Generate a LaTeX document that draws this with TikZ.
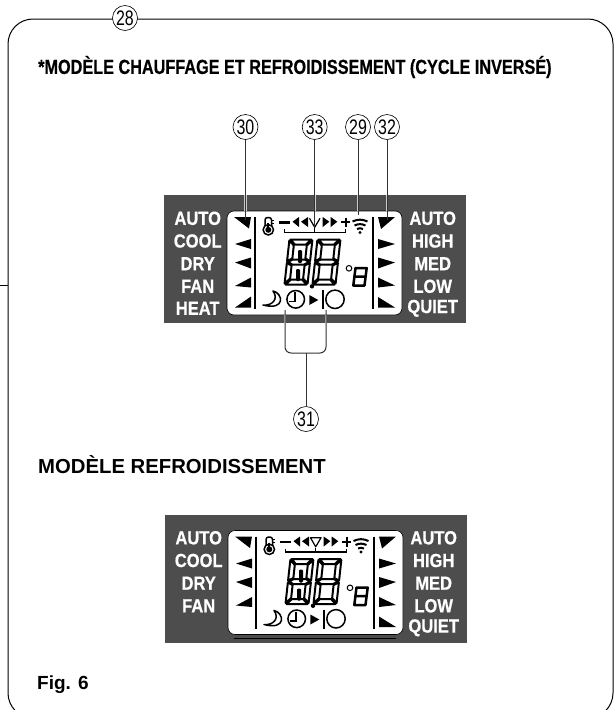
\documentclass[tikz,border=0pt]{standalone}
\usepackage{fontspec}
\setmainfont{Liberation Sans}
\newfontfamily\condfont[FakeStretch=0.87,BoldFeatures={FakeBold=0.5}]{Liberation Sans}
\newfontfamily\titlefont[FakeStretch=0.8,BoldFeatures={FakeBold=0.5}]{Liberation Sans}
\newfontfamily\numfont[FakeStretch=0.76]{Liberation Sans}
\usetikzlibrary{positioning,calc}
\definecolor{panelgray}{HTML}{4D4D4D}
\tikzset{
  callout/.style={circle,draw,fill=white,line width=0.6pt,minimum size=25pt,inner sep=0pt,
    font=\fontsize{21}{21}\selectfont\numfont},
  leader/.style={line width=1pt,black!80},
  halo/.style={line width=2.2pt,white!80!black},
  heading/.style={anchor=west,inner sep=0pt,font=\fontsize{20.3}{20.3}\selectfont\bfseries},
  panellabel/.style={text=white,inner sep=0pt,font=\fontsize{19}{19}\selectfont\bfseries\condfont},
  wedge/.style={fill=black,draw=none},
  lcdbar/.style={line width=2.4pt,black},
  seg/.style={draw=black,fill=white,line width=2pt,line join=round},
}
% one seven segment digit, top left at (#1,#2)
\newcommand{\segdigit}[2]{
  \begin{scope}[shift={(#1,#2)},xslant=0.11]
    \draw[seg] (1.5,0.5) -- (22.5,0.5) -- (17.5,5.5) -- (6.5,5.5) -- cycle; % top
    \draw[seg] (0.5,1.5) -- (5.5,6.5) -- (5.5,19.5) -- (0.5,22) -- cycle; % upper left
    \draw[seg] (23.5,1.5) -- (18.5,6.5) -- (18.5,19.5) -- (23.5,22) -- cycle; % upper right
    \draw[seg] (1.5,23) -- (6,20.5) -- (18,20.5) -- (22.5,23) -- (18,25.5) -- (6,25.5) -- cycle; % middle
    \draw[seg] (0.5,24) -- (5.5,26.5) -- (5.5,39.5) -- (0.5,44.5) -- cycle; % lower left
    \draw[seg] (23.5,24) -- (18.5,26.5) -- (18.5,39.5) -- (23.5,44.5) -- cycle; % lower right
    \draw[seg] (1.5,45.5) -- (22.5,45.5) -- (17.5,40.5) -- (6.5,40.5) -- cycle; % bottom
  \end{scope}
}
% the panel, #1 prefixes the node names, #2 closes the fan mark
\newcommand{\lcdpanel}[2]{
  \fill[panelgray] (164,195) rectangle (466,323);
  \draw[fill=white,line width=0.6pt,rounded corners=7pt] (227,211) rectangle (402,315);
  \foreach \row/\ypos/\lefttxt in {a/218.3/AUTO,b/241/COOL,c/263.7/DRY,d/286.3/FAN} {
    \node[panellabel] (#1left\row) at (197.7,\ypos) {\lefttxt};
  }
  \foreach \row/\ypos/\righttxt in {a/218.3/AUTO,b/241/HIGH,c/263.7/MED,d/286.3/LOW,e/308.3/QUIET} {
    \node[panellabel] (#1right\row) at (432.7,\ypos) {\righttxt};
  }
  \draw[lcdbar] (255,217) -- (255,309);
  \draw[lcdbar] (373,217) -- (373,309);
  % left wedges
  \fill[wedge] (234,217) -- (251,217) -- (249,228.5) -- cycle;
  \fill[wedge] (235,244) -- (251,239) -- (251,249) -- cycle;
  \fill[wedge] (235,262.5) -- (251,257.5) -- (251,268.5) -- cycle;
  \fill[wedge] (235,286) -- (251,277.5) -- (251,287.5) -- cycle;
  % right wedges
  \fill[wedge] (378,217) -- (395,217) -- (381,229) -- cycle;
  \fill[wedge] (378,239) -- (395,244) -- (378,249) -- cycle;
  \fill[wedge] (378,257.5) -- (395,262.5) -- (378,268.5) -- cycle;
  \fill[wedge] (378,277.5) -- (395,285.5) -- (378,287.5) -- cycle;
  \fill[wedge] (378,307.5) -- (395,307.5) -- (378,297) -- cycle;
  % thermometer
  \draw[line width=1.5pt,fill=white,rounded corners=2.5pt] (265,227) -- (265,217.5) -- (271.5,217.5) -- (271.5,227);
  \draw[line width=1.5pt,fill=white] (268.3,229.8) circle (5.2);
  \fill (268.3,229.8) circle (3);
  \draw[line width=2.2pt] (268.3,223) -- (268.3,229);
  \draw[line width=0.8pt] (272,220) -- (274.3,220) (272,223) -- (274.3,223);
  % fan speed row
  \draw[line width=2.2pt] (279,222.5) -- (290,222.5);
  \fill[wedge] (292.5,221.7) -- (299,217) -- (299,227) -- cycle;
  \fill[wedge] (301,221.7) -- (308,217) -- (308,227) -- cycle;
  \draw[line width=1.2pt,line join=round] (309.5,218.3) -- (314.7,227.3) -- (320,218.3) #2;
  \fill[wedge] (329.3,221.7) -- (322.7,217) -- (322.7,227) -- cycle;
  \fill[wedge] (337.3,221.7) -- (330.7,217) -- (330.7,227) -- cycle;
  \draw[line width=2.2pt] (341,222.3) -- (350.4,222.3) (345.7,217.6) -- (345.7,227);
  \draw[line width=1.5pt] (284.3,229.3) -- (284.3,232.3) -- (345.7,232.3) -- (345.7,229.3);
  \draw[line width=1.5pt] (314.5,228) -- (314.5,232.3);
  % signal mark
  \draw[line width=2pt] (352.5,221.5) to[bend left=25] (367.5,221.5);
  \draw[line width=2pt] (354.5,225.5) to[bend left=25] (365.5,225.5);
  \draw[line width=2pt] (357,229) to[bend left=25] (363,229);
  \fill (360,232.5) circle (1.7);
  % digits
  \segdigit{289}{239}
  \segdigit{317}{239}
  \fill[rounded corners=1.2pt] (298,250) rectangle (302,263);
  \fill[rounded corners=1.2pt] (296,269) rectangle (300,281);
  \fill (312,286.3) circle (2.2);
  \draw[line width=1pt] (349,268.3) circle (2.8);
  \draw[line width=2.5pt,line join=round] (355.5,268) -- (366.7,268) -- (364.5,285.5) -- (353.3,285.5) -- cycle
    (354.4,276.7) -- (365.6,276.7);
  % timer row
  \draw[line width=1.5pt,line join=round] (273,291) .. controls (283,293) and (286,311) .. (263,305)
    .. controls (272,306) and (279,299) .. cycle;
  \draw[line width=1.5pt] (295.7,299.3) circle (8.8);
  \draw[line width=1.3pt] (295,292) -- (295,301.5) -- (289,301.5);
  \fill[wedge] (309.3,295) -- (318.3,300) -- (309.3,305) -- cycle;
  \draw[lcdbar] (322.7,290) -- (322.7,309.3);
  \draw[line width=1.5pt] (335,299.3) circle (9.2);
}

\begin{document}
\begin{tikzpicture}[x=1pt,y=-1pt]
  \useasboundingbox (0,0) rectangle (615,710);
  \begin{scope}
    \clip (0,0) rectangle (615,710);
    \draw[line width=1pt,rounded corners=25pt] (8,19) rectangle (613,718);
    \draw[line width=0.8pt] (0,285) -- (8,285);
  \end{scope}
  \node[callout] (c28) at (125,18) {28};
  \node[heading,font=\fontsize{20.3}{20.3}\selectfont\bfseries\titlefont] (title) at (38,67) {*MODÈLE CHAUFFAGE ET REFROIDISSEMENT (CYCLE INVERSÉ)};
  \node[heading] (title2) at (38,465) {MODÈLE REFROIDISSEMENT};
  \node[heading,font=\fontsize{19}{19}\selectfont\bfseries] (figlabel) at (37,685) {Fig. 6};
  % panel with heat
  \lcdpanel{p}{}
  \node[panellabel] (plefte) at (197.7,308.3) {HEAT};
  \fill[wedge] (235,307.5) -- (251,307.5) -- (251,296.5) -- cycle;
  % callouts
  \foreach \nr/\xpos/\ypos in {30/245.5/220,33/314.7/227,29/358/215,32/387/220} {
    \node[callout] (c\nr) at (\xpos,127) {\nr};
    \coordinate (t\nr) at (\xpos,\ypos);
    \draw[halo] (\xpos,195) -- (\xpos,211);
    \draw[leader] (c\nr) -- (t\nr);
  }
  \node[callout] (c31) at (306,419) {31};
  \coordinate (tclock) at (285,310);
  \coordinate (tpower) at (326,310);
  \draw[halo] (285,315) -- (285,323);
  \draw[halo] (326,315) -- (326,323);
  \draw[leader,rounded corners=6pt] (tclock) -- (285,353) -- (326,353) -- (tpower);
  \draw[leader] (c31) -- (306,353);
  % panel without heat
  \begin{scope}[shift={(1,319.5)}]
    \lcdpanel{q}{-- cycle}
    \draw[line width=1.6pt] (233,319) -- (395,319);
  \end{scope}
\end{tikzpicture}
\end{document}
